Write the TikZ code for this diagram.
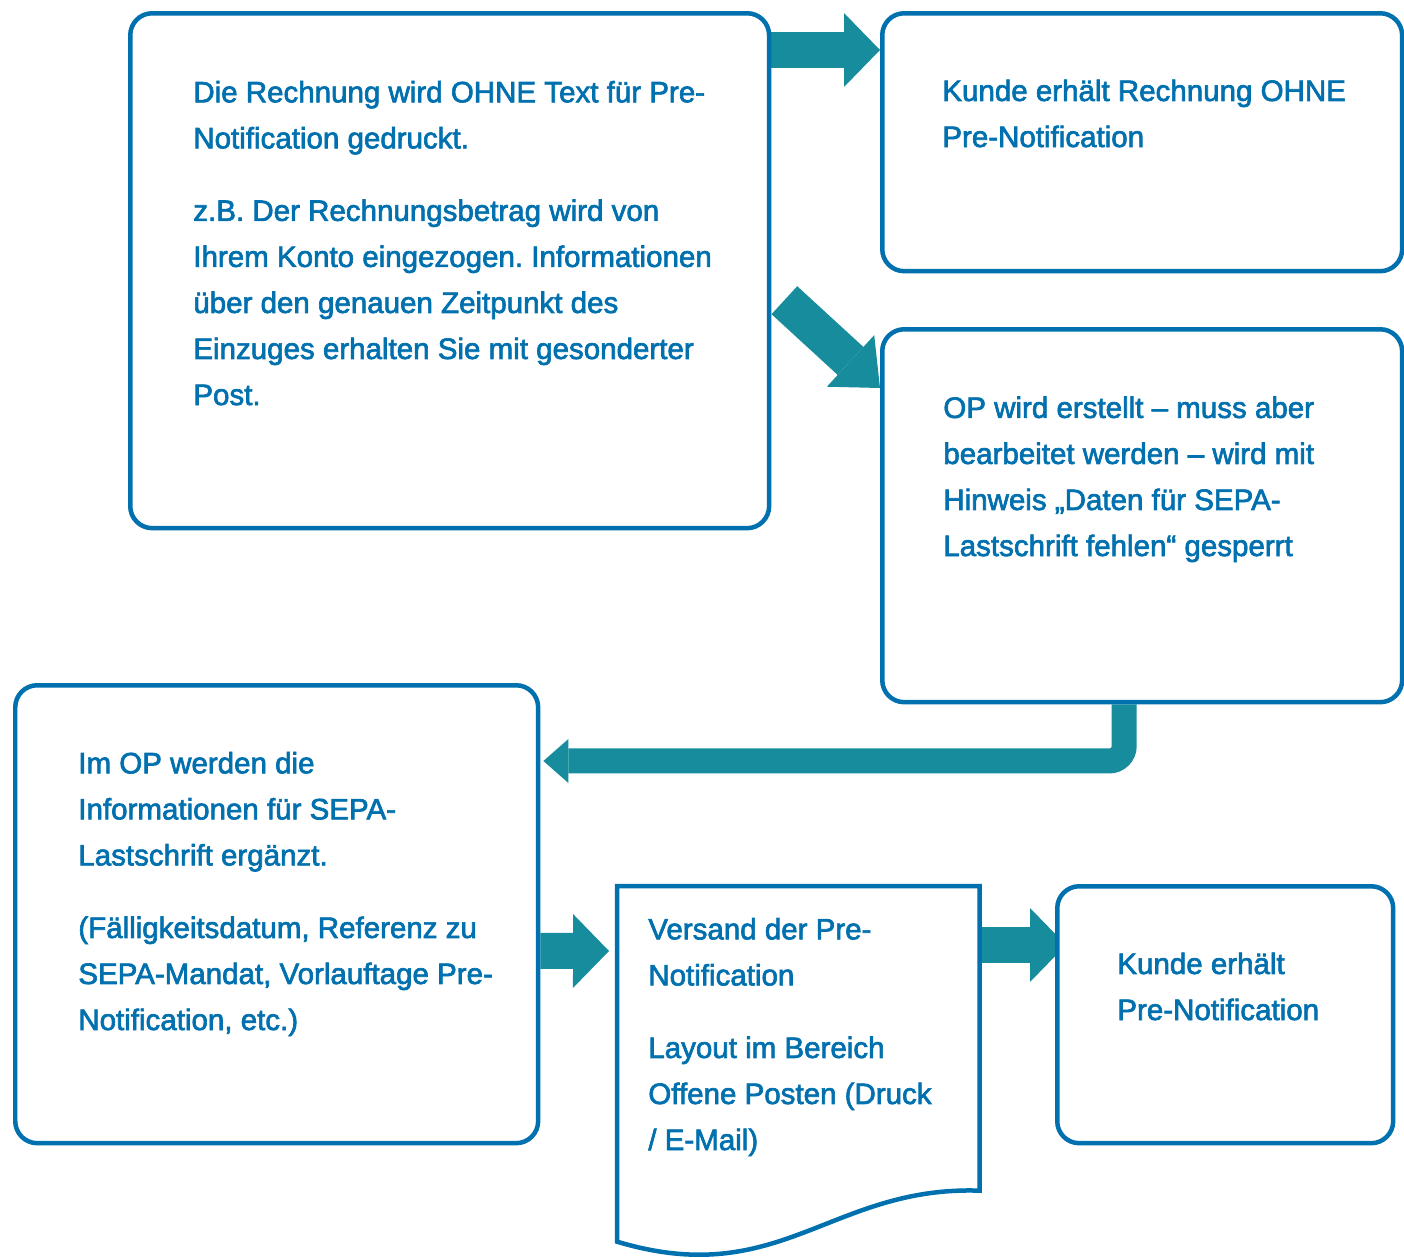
\documentclass[tikz,border=0pt]{standalone}
\usepackage{fontspec}
\setmainfont{Liberation Sans}[RawFeature={embolden=2.2}]
\usepackage{tikz}
\usetikzlibrary{arrows.meta,backgrounds,calc}
\definecolor{BoxBlue}{HTML}{0070AE}
\definecolor{FlowTeal}{HTML}{168C9C}
\frenchspacing

\begin{document}
\begin{tikzpicture}[x=0.02cm, y=-0.02cm,
    box/.style={draw=BoxBlue, fill=white, line width=0.09cm, rounded corners=0.44cm, anchor=north west, inner sep=0pt},
    txt/.style={anchor=base west, align=left, inner sep=0pt, text=BoxBlue, font=\fontsize{16.8pt}{26.2pt}\selectfont},
    flow/.style={draw=FlowTeal, line width=0.72cm, -{Triangle[length=0.72cm, width=1.48cm, line width'=0pt]}}]
    \useasboundingbox (0,0) rectangle (1404,1258);

    % Kästen (oben links nach unten rechts)
    \node[box, minimum width=12.78cm, minimum height=10.3cm] (rechnung) at (128,11) {};
    \node[box, minimum width=10.4cm, minimum height=5.16cm] (kundeohne) at (880,11) {};
    \node[box, minimum width=10.4cm, minimum height=7.46cm] (gesperrt) at (880,327) {};
    \node[box, minimum width=10.46cm, minimum height=9.16cm] (ergaenzt) at (13,683) {};
    \node[anchor=north west, inner sep=0pt, minimum width=7.24cm, minimum height=6.08cm] (versand) at (617,886) {};
    \node[box, minimum width=6.72cm, minimum height=5.14cm] (kundepre) at (1055,884) {};

    % Dokument-Form fuer den Versand
    \draw[draw=BoxBlue, fill=white, line width=0.09cm] (versand.north west) -- (versand.north east) -- (versand.south east)
        .. controls ++(-149,-5) and ($(versand.south west)+(163,100)$) .. ($(versand.south west)+(0,51)$) -- cycle;

    % Texte (Anker = Grundlinie der letzten Zeile)
    \node[txt] (rechnungtxt) at (193,405) {Die Rechnung wird OHNE Text für Pre-\\Notification gedruckt.\\[0.53cm]z.B. Der Rechnungsbetrag wird von\\Ihrem Konto eingezogen. Informationen\\über den genauen Zeitpunkt des\\Einzuges erhalten Sie mit gesonderter\\Post.};
    \node[txt] (kundeohnetxt) at (942,147) {Kunde erhält Rechnung OHNE\\Pre-Notification};
    \node[txt] (gesperrttxt) at (943,556) {OP wird erstellt – muss aber\\bearbeitet werden – wird mit\\Hinweis „Daten für SEPA-\\Lastschrift fehlen“ gesperrt};
    \node[txt] (ergaenzttxt) at (78,1030) {Im OP werden die\\Informationen für SEPA-\\Lastschrift ergänzt.\\[0.53cm](Fälligkeitsdatum, Referenz zu\\SEPA-Mandat, Vorlauftage Pre-\\Notification, etc.)};
    \node[txt] (versandtxt) at (648,1150) {Versand der Pre-\\Notification\\[0.53cm]Layout im Bereich\\Offene Posten (Druck\\/ E-Mail)};
    \node[txt] (kundepretxt) at (1117,1020) {Kunde erhält\\Pre-Notification};

    % Pfeile hinter den Kaesten
    \begin{scope}[on background layer]
        \draw[flow] ([yshift=-0.78cm]rechnung.north east) -- ([yshift=-0.78cm]kundeohne.north west);
        \draw[flow, line width=0.76cm, -{Triangle[length=0.8cm, width=1.4cm, line width'=0pt]}]
            ([shift={(0.26cm,-0.59cm)}]rechnung.east) -- ([yshift=-1.22cm]gesperrt.north west);
        \draw[flow, line width=0.5cm, rounded corners=0.3cm, -{Triangle[length=0.5cm, width=0.88cm, line width'=0pt]}]
            ([xshift=-0.36cm]gesperrt.south) |- ([shift={(0.06cm,-1.56cm)}]ergaenzt.north east);
        \draw[flow] ([yshift=-5.36cm]ergaenzt.north east) -- ([shift={(-0.16cm,-1.3cm)}]versand.north west);
        \draw[flow] ([yshift=-1.18cm]versand.north east) -- ([shift={(0.22cm,-1.22cm)}]kundepre.north west);
    \end{scope}
\end{tikzpicture}
\end{document}
